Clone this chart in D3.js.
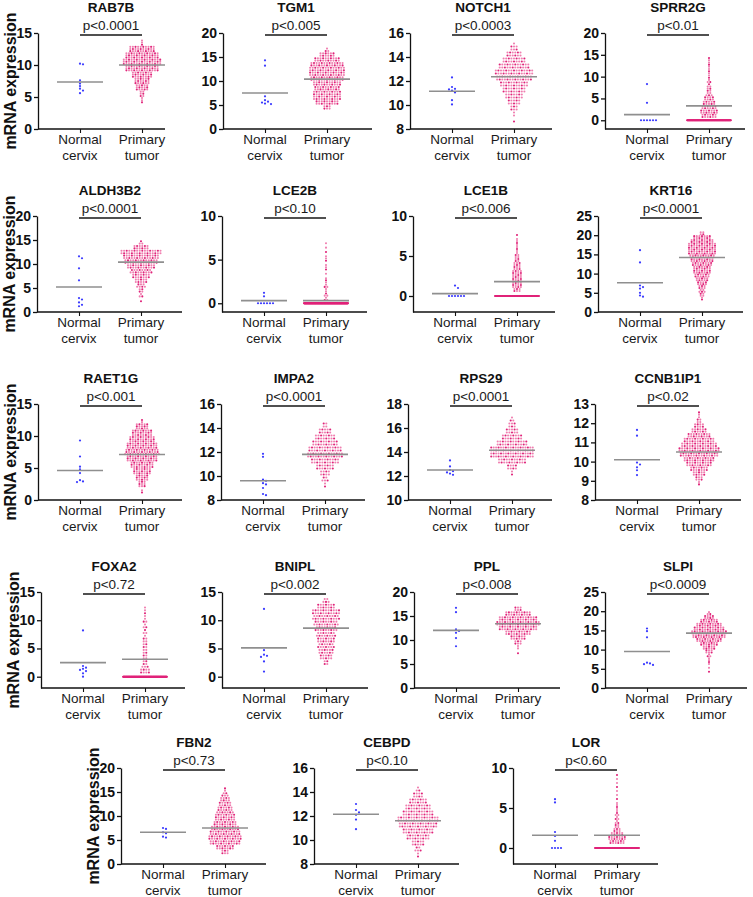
<!DOCTYPE html>
<html><head><meta charset="utf-8">
<script src="https://cdn.jsdelivr.net/npm/d3@7"></script>
<style>body{margin:0;background:#fff;} svg{display:block;font-family:"Liberation Sans",Arial,sans-serif;}</style>
</head><body><svg id="c" width="753" height="897"></svg>
<script>
// ---------------- DATA ----------------
const genes = ["RAB7B","TGM1","NOTCH1","SPRR2G","ALDH3B2","LCE2B","LCE1B","KRT16","RAET1G","IMPA2","RPS29","CCNB1IP1","FOXA2","BNIPL","PPL","SLPI","FBN2","CEBPD","LOR"];
const pValues = ["p<0.0001","p<0.005","p<0.0003","p<0.01","p<0.0001","p<0.10","p<0.006","p<0.0001","p<0.001","p<0.0001","p<0.0001","p<0.02","p<0.72","p<0.002","p<0.008","p<0.0009","p<0.73","p<0.10","p<0.60"];
const categories = ["Normal cervix","Primary tumor"];
const categoryLines = [["Normal","cervix"],["Primary","tumor"]];
const yLabel = "mRNA expression";
const yDomains = [[0,15],[0,20],[8,16],[-2,20],[0,20],[-1,10],[-2,10],[0,25],[0,15],[8,16],[10,18],[8,13],[-2,15],[-2,15],[0,20],[0,25],[0,20],[8,16],[-2,10]];
const yTicks = [[0,5,10,15],[0,5,10,15,20],[8,10,12,14,16],[0,5,10,15,20],[0,5,10,15,20],[0,5,10],[0,5,10],[0,5,10,15,20,25],[0,5,10,15],[8,10,12,14,16],[10,12,14,16,18],[8,9,10,11,12,13],[0,5,10,15],[0,5,10,15],[0,5,10,15,20],[0,5,10,15,20,25],[0,5,10,15,20],[8,10,12,14,16],[0,5,10]];
const normalValues = [
  [10.2,10.1,7.6,7.1,6.7,6.3,6.0,5.6],
  [14.3,13.2,6.8,6.0,5.7,5.5,5.3,5.2],
  [12.3,11.5,11.35,11.2,11.05,10.4,10.05,11.3],
  [8.3,4.0,0,0,0,0,0,0],
  [11.6,11.2,9.1,6.6,2.9,2.6,2.0,1.5,1.2],
  [1.2,0.8,0,0,0,0,0,0],
  [1.3,1.0,0,0,0,0,0,0],
  [16.1,12.9,6.9,6.5,6.1,5.0,4.3,4.0],
  [9.3,6.8,5.2,4.8,4.2,3.1,2.9,2.8],
  [11.85,11.6,9.7,9.6,9.4,9.3,9.0,8.5,8.4],
  [13.3,12.8,12.5,12.4,12.3,12.2,12.1],
  [11.65,11.35,9.95,9.85,9.7,9.55,9.3],
  [8.2,1.9,1.6,1.4,1.2,1.0,0.6,0],
  [12.0,4.7,3.9,3.7,3.5,2.7,0.9],
  [16.7,15.8,12.2,11.9,11.5,10.4,8.7],
  [15.5,14.8,13.2,6.6,6.4,6.2,6.0],
  [7.5,7.3,6.6,6.4,5.7,5.5],
  [13.0,12.5,12.3,12.1,11.7,10.9],
  [6.1,5.7,2.0,1.5,0.9,0,0,0,0]
];
const normalMeans = [7.35,7.5,11.15,1.3,5.2,0.3,0.3,7.6,4.6,9.6,12.5,10.1,2.5,5.1,12.0,9.5,6.6,12.15,1.6];
const tumorMeans  = [10.0,10.4,12.35,3.3,10.4,0.3,1.8,14.2,7.1,11.8,14.15,10.5,3.1,8.6,13.4,14.3,7.5,11.6,1.6];
const tumorZeroCounts = [0,0,0,120,0,250,150,0,0,0,0,0,150,0,0,0,0,0,150];
const tumorBinStart = [4,4,8.5,0.5,2,0.25,0.5,3,1,9,12,8.75,0.5,2,7,4,2,8.5,0.5];
const tumorBinWidth = [1,1,0.5,1,1,0.5,0.5,1,1,0.5,0.5,0.25,1,1,1,1,1,0.5,0.5];
const tumorBinCounts = [
  [3,6,15,18,24,39,45,39,30,3],
  [6,18,22,22,20,22,26,28,28,26,20,12,3],
  [1,2,6,10,14,18,22,28,30,24,18,12,6,1],
  [12,14,12,10,8,5,4,3,3,2,2,2,2,2],
  [1,3,4,7,10,14,17,22,26,28,32,12,3],
  [3,3,2,3,2,1,1,2,1,2,1,1,1,1],
  [6,8,8,8,8,7,6,5,4,3,2,2,2,1,1],
  [2,4,5,6,8,10,12,14,14,16,18,20,22,22,22,18,14,4],
  [2,9,15,21,27,36,40,36,30,24,15,2],
  [2,5,8,14,22,28,26,20,16,10,4],
  [2,8,22,36,36,24,16,10,6,3],
  [2,6,10,14,20,24,30,32,28,24,18,12,8,4,2,1],
  [8,5,4,4,4,4,3,3,3,3,2,2],
  [4,10,12,13,14,15,17,19,21,22,14,5],
  [1,2,6,12,20,30,34,30,20,6],
  [1,1,2,2,3,6,10,14,20,26,28,24,20,14,8,3],
  [6,14,24,26,24,22,18,16,15,12,10,8,5,2],
  [2,5,10,18,24,30,32,24,20,14,8,3],
  [12,14,10,6,4,3,3,3,2,2,1,1,1,1,1,1,1,1]
];

// ---------------- LAYOUT ----------------
const axisXs = [38,223,410,605, 37,222,413,598, 38,221,408,595, 41,222,414,605, 121,314,513];
const rowTops = [33,216,404,592,768];
const panelRow = [0,0,0,0,1,1,1,1,2,2,2,2,3,3,3,3,4,4,4];
const panelWidths = [127,149,142,140,145,145,142,145,144,144,144,146,144,146,146,142,145,145,145];
const yLabelPanels = [0,4,8,12,16];
const H = 96;
const FONT = '"Liberation Sans", Arial, sans-serif';

const svg = d3.select("#c");

genes.forEach((g, i) => {
  const ax = axisXs[i], top = rowTops[panelRow[i]], bottom = top + H, w = panelWidths[i];
  const G = svg.append("g");
  const y = d3.scaleLinear().domain(yDomains[i]).range([bottom, top]);
  const x = d3.scalePoint().domain(categories).range([ax + 42, ax + 104]);

  // tumor dots
  const rows = [];
  const bw = tumorBinWidth[i], st = tumorBinStart[i];
  const binPx = Math.abs(y(st + bw) - y(st));
  const nr = Math.max(1, Math.round(binPx / 2.5));
  tumorBinCounts[i].forEach((c, b) => {
    const base = Math.floor(c / nr), rem = c % nr;
    for (let r = 0; r < nr; r++) {
      const n = base + (r < rem ? 1 : 0);
      if (n > 0) rows.push({ v: st + b * bw + (r + 0.5) * bw / nr, n, zero: false });
    }
  });
  if (tumorZeroCounts[i] > 0) rows.push({ v: 0, n: tumorZeroCounts[i], zero: true });
  const tDots = [];
  const cxT = x(categories[1]);
  rows.forEach((rw, ri) => {
    const pitch = Math.min(2.6, 44 / rw.n);
    for (let j = 0; j < rw.n; j++) tDots.push({
      x: cxT + (j - (rw.n - 1) / 2) * pitch, y: y(rw.v),
      dark: rw.zero || ((j + ri * 2) % 3 === 0)
    });
  });
  G.append("g").selectAll("circle").data(tDots).join("circle")
    .attr("cx", d => d.x).attr("cy", d => d.y).attr("r", 1.05)
    .attr("fill", d => d.dark ? "#e0247a" : "#f07fb0");

  // normal dots (dodged)
  const cxN = x(categories[0]);
  const pts = normalValues[i].map(v => ({ v, py: y(v) })).sort((a, b) => a.py - b.py);
  const placed = [];
  const pitchN = 3;
  pts.forEach(p => {
    for (let k = 0; k < 40; k++) {
      const off = k === 0 ? 0 : (k % 2 ? 1 : -1) * Math.ceil(k / 2) * pitchN;
      if (!placed.some(q => Math.abs(q.py - p.py) < 2.4 && Math.abs(q.x - (cxN + off)) < pitchN - 0.1)) {
        p.x = cxN + off; placed.push(p); break;
      }
    }
  });
  G.append("g").selectAll("circle").data(placed).join("circle")
    .attr("cx", d => d.x).attr("cy", d => d.py).attr("r", 1.1).attr("fill", "#3a3aff");

  // mean lines
  [[cxN, normalMeans[i]], [cxT, tumorMeans[i]]].forEach(([cx, m]) => {
    G.append("line").attr("x1", cx - 23).attr("x2", cx + 23).attr("y1", y(m)).attr("y2", y(m))
      .attr("stroke", "#8f8f8f").attr("stroke-width", 1.6);
  });

  // y axis
  const yAxis = G.append("g").attr("transform", `translate(${ax},0)`)
    .call(d3.axisLeft(y).tickValues(yTicks[i]).tickFormat(d3.format("d")).tickSize(4).tickSizeOuter(0).tickPadding(2));
  yAxis.selectAll("path,line").attr("stroke", "#111").attr("stroke-width", 1.3);
  yAxis.selectAll("text").attr("font-family", FONT).attr("font-size", 14).attr("font-weight", "bold").attr("fill", "#111");

  // x axis
  G.append("line").attr("x1", ax).attr("x2", ax + w).attr("y1", bottom).attr("y2", bottom)
    .attr("stroke", "#111").attr("stroke-width", 1.3);
  const xAxis = G.append("g").attr("transform", `translate(0,${bottom})`)
    .call(d3.axisBottom(x).tickSize(4).tickFormat(""));
  xAxis.select(".domain").remove();
  xAxis.selectAll("line").attr("stroke", "#111").attr("stroke-width", 1.1);

  categoryLines.forEach((lines, k) => {
    const t = G.append("text").attr("text-anchor", "middle").attr("font-family", FONT)
      .attr("font-size", 13.5).attr("fill", "#1a1a1a");
    lines.forEach((ln, li) => t.append("tspan").attr("x", x(categories[k])).attr("y", bottom + 15 + li * 16).text(ln));
  });

  // bracket, p value, title
  const by = top + 2, mid = (cxN + cxT) / 2;
  G.append("line").attr("x1", cxN).attr("x2", cxT).attr("y1", by).attr("y2", by)
    .attr("stroke", "#505050").attr("stroke-width", 1.8);
  G.append("text").attr("x", mid).attr("y", by - 5).attr("text-anchor", "middle")
    .attr("font-family", FONT).attr("font-size", 13.5).attr("fill", "#1a1a1a").text(pValues[i]);
  G.append("text").attr("x", mid).attr("y", by - 23).attr("text-anchor", "middle")
    .attr("font-family", FONT).attr("font-size", 13.5).attr("font-weight", "bold").attr("fill", "#111").text(g);

  if (yLabelPanels.includes(i)) {
    G.append("text").attr("transform", `translate(${ax - 22},${(top + bottom) / 2}) rotate(-90)`)
      .attr("text-anchor", "middle").attr("font-family", FONT).attr("font-size", 16)
      .attr("font-weight", "bold").attr("fill", "#111").text(yLabel);
  }
});
</script></body></html>
